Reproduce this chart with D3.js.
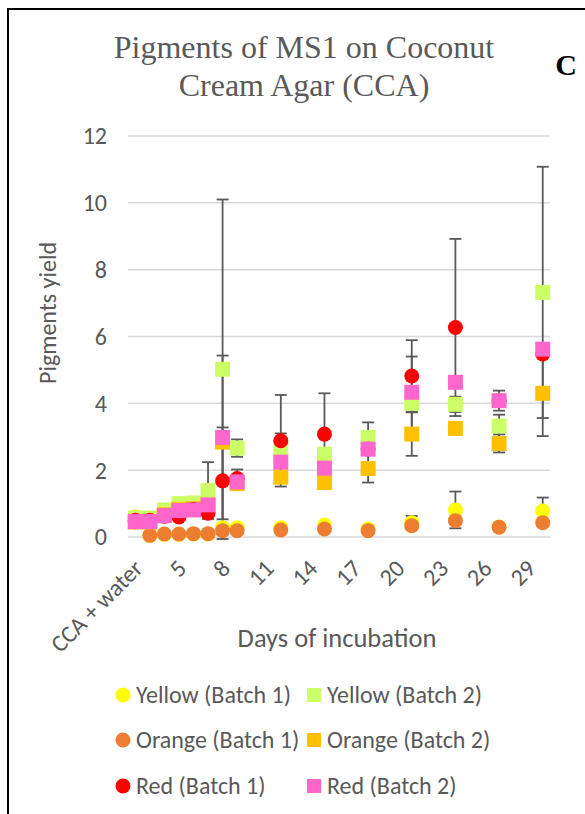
<!DOCTYPE html>
<html>
<head>
<meta charset="utf-8">
<script src="https://cdn.jsdelivr.net/npm/d3@7/dist/d3.min.js"></script>
<style>
  body { margin: 0; background: #fff; }
  svg { display: block; }
  text { font-family: Carlito, Calibri, Lato, sans-serif; fill: #595959; }
</style>
</head>
<body>
<svg id="svg" width="585" height="814"></svg>
<script>
// categories on the x axis (every day from 3 to 30 after the control)
const categories = ["CCA + water", "3", "4", "5", "6", "7", "8", "9", "10", "11", "12", "13", "14", "15",
  "16", "17", "18", "19", "20", "21", "22", "23", "24", "25", "26", "27", "28", "29", "30"];
const tickLabels = ["CCA + water", "5", "8", "11", "14", "17", "20", "23", "26", "29"];
const yTicks = [0, 2, 4, 6, 8, 10, 12];

// days that were measured
const sampled = ["CCA + water", "3", "4", "5", "6", "7", "8", "9", "12", "15", "18", "21", "24", "27", "30"];

// pigment yields
const yellow1 = [0.60, 0.05, 0.08, 0.08, 0.09, 0.09, 0.28, 0.28, 0.28, 0.36, 0.24, 0.43, 0.81, 0.30, 0.78];
const yellow2 = [0.57, 0.57, 0.81, 1.00, 1.02, 1.39, 5.02, 2.66, 2.68, 2.48, 2.98, 4.00, 3.97, 3.32, 7.32];
const orange1 = [0.45, 0.05, 0.09, 0.09, 0.10, 0.10, 0.19, 0.19, 0.21, 0.24, 0.19, 0.34, 0.49, 0.29, 0.43];
const orange2 = [0.45, 0.45, 0.67, 0.83, 0.85, 0.95, 2.84, 1.60, 1.79, 1.63, 2.05, 3.08, 3.25, 2.80, 4.30];
const red1    = [0.50, 0.50, 0.62, 0.60, 0.83, 0.71, 1.68, 1.75, 2.88, 3.08, 2.63, 4.82, 6.27, 4.08, 5.48];
const red2    = [0.46, 0.46, 0.64, 0.79, 0.81, 0.96, 2.98, 1.65, 2.24, 2.06, 2.63, 4.33, 4.63, 4.08, 5.62];

// error bars (+/-)
const yellow1Err = [0, 0, 0, 0, 0, 0, 0, 0, 0, 0, 0, 0.20, 0.55, 0, 0.40];
const yellow2Err = [0, 0, 0, 0, 0, 0.85, 5.08, 0.26, 0.42, 0, 0.45, 0, 0.23, 0.34, 3.76];
const orange1Err = [0, 0, 0, 0, 0, 0, 0, 0, 0, 0, 0, 0, 0, 0, 0];
const orange2Err = [0, 0, 0, 0, 0, 0, 0, 0, 0, 0, 0.42, 0.65, 0, 0.27, 1.28];
const red1Err    = [0, 0, 0, 0, 0, 0, 1.60, 0.27, 1.37, 1.22, 0, 1.07, 2.65, 0, 0];
const red2Err    = [0, 0, 0, 0, 0, 0, 2.45, 0, 0, 0, 0, 1.07, 0, 0.30, 0];

const series = [
  { name: "Yellow (Batch 1)", values: yellow1, err: yellow1Err, color: "#FFFF00", shape: "circle" },
  { name: "Yellow (Batch 2)", values: yellow2, err: yellow2Err, color: "#CCFF66", shape: "square" },
  { name: "Orange (Batch 1)", values: orange1, err: orange1Err, color: "#ED7D31", shape: "circle" },
  { name: "Orange (Batch 2)", values: orange2, err: orange2Err, color: "#FFC000", shape: "square" },
  { name: "Red (Batch 1)",    values: red1,    err: red1Err,    color: "#FF0000", shape: "circle" },
  { name: "Red (Batch 2)",    values: red2,    err: red2Err,    color: "#FF66CC", shape: "square" }
];

const svg = d3.select("#svg");
const margin = { top: 136, right: 35, bottom: 277, left: 128 };
const width = +svg.attr("width");
const height = +svg.attr("height");

// frame of the figure panel
svg.append("path")
  .attr("d", "M8,814 L8,9 L585,9")
  .attr("fill", "none")
  .attr("stroke", "#000")
  .attr("stroke-width", 2);

const x = d3.scaleBand()
  .domain(categories)
  .range([margin.left, width - margin.right]);
const cx = d => x(d) + x.bandwidth() / 2;

const y = d3.scaleLinear()
  .domain([0, 12])
  .range([height - margin.bottom, margin.top]);

// gridlines
svg.append("g")
  .selectAll("line")
  .data(yTicks)
  .join("line")
  .attr("x1", margin.left)
  .attr("x2", width - margin.right)
  .attr("y1", d => y(d))
  .attr("y2", d => y(d))
  .attr("stroke", "#d9d9d9")
  .attr("stroke-width", 1.5);

// y tick labels
svg.append("g")
  .selectAll("text")
  .data(yTicks)
  .join("text")
  .attr("x", 107)
  .attr("y", d => y(d))
  .attr("dy", "0.35em")
  .attr("text-anchor", "end")
  .style("font-size", "24px")
  .text(d => d);

// x tick labels, rotated
svg.append("g")
  .selectAll("text")
  .data(tickLabels)
  .join("text")
  .attr("transform", d => `translate(${cx(d) + 3},${y(0) + 27}) rotate(-45)`)
  .attr("text-anchor", "end")
  .attr("dy", "0.35em")
  .style("font-size", "24px")
  .text(d => d);

// error bars under the markers
const cap = 6;
const errG = svg.append("g")
  .attr("stroke", "#595959")
  .attr("stroke-width", 1.8);
series.forEach(s => {
  const pts = sampled.map((c, i) => ({ c, v: s.values[i], e: s.err[i] })).filter(p => p.e > 0);
  pts.forEach(p => {
    const px = cx(p.c);
    const y1 = y(p.v + p.e), y2 = y(p.v - p.e);
    errG.append("line").attr("x1", px).attr("x2", px).attr("y1", y1).attr("y2", y2);
    errG.append("line").attr("x1", px - cap).attr("x2", px + cap).attr("y1", y1).attr("y2", y1);
    errG.append("line").attr("x1", px - cap).attr("x2", px + cap).attr("y1", y2).attr("y2", y2);
  });
});

// markers
const size = 15;
series.forEach(s => {
  const g = svg.append("g").attr("fill", s.color);
  const pts = sampled.map((c, i) => ({ c, v: s.values[i] }));
  if (s.shape === "circle") {
    g.selectAll("circle").data(pts).join("circle")
      .attr("cx", d => cx(d.c))
      .attr("cy", d => y(d.v))
      .attr("r", size / 2);
  } else {
    g.selectAll("rect").data(pts).join("rect")
      .attr("x", d => cx(d.c) - size / 2)
      .attr("y", d => y(d.v) - size / 2)
      .attr("width", size)
      .attr("height", size);
  }
});

// titles
svg.append("text")
  .attr("x", 304).attr("y", 58)
  .attr("text-anchor", "middle")
  .style("font-family", "'Liberation Serif', 'Times New Roman', serif")
  .style("font-size", "32px")
  .text("Pigments of MS1 on Coconut");
svg.append("text")
  .attr("x", 304).attr("y", 96)
  .attr("text-anchor", "middle")
  .style("font-family", "'Liberation Serif', 'Times New Roman', serif")
  .style("font-size", "32px")
  .text("Cream Agar (CCA)");
svg.append("text")
  .attr("x", 566).attr("y", 75)
  .attr("text-anchor", "middle")
  .style("font-family", "'Liberation Serif', 'Times New Roman', serif")
  .style("font-weight", "bold")
  .style("font-size", "30px")
  .style("fill", "#000")
  .text("C");

svg.append("text")
  .attr("transform", "translate(56,313) rotate(-90)")
  .attr("text-anchor", "middle")
  .style("font-size", "24px")
  .text("Pigments yield");
svg.append("text")
  .attr("x", 337).attr("y", 647)
  .attr("text-anchor", "middle")
  .style("font-size", "26.5px")
  .text("Days of incubation");

// legend, two columns
const legend = svg.append("g");
const legCols = [123, 314];
const legRows = [695, 740, 786];
series.forEach((s, i) => {
  const lx = legCols[i % 2], ly = legRows[Math.floor(i / 2)];
  if (s.shape === "circle") {
    legend.append("circle").attr("cx", lx).attr("cy", ly).attr("r", 7.5).attr("fill", s.color);
  } else {
    legend.append("rect").attr("x", lx - 7).attr("y", ly - 7).attr("width", 14).attr("height", 14).attr("fill", s.color);
  }
  legend.append("text")
    .attr("x", lx + 13).attr("y", ly)
    .attr("dy", "0.35em")
    .style("font-size", "24px")
    .text(s.name);
});
</script>
</body>
</html>
